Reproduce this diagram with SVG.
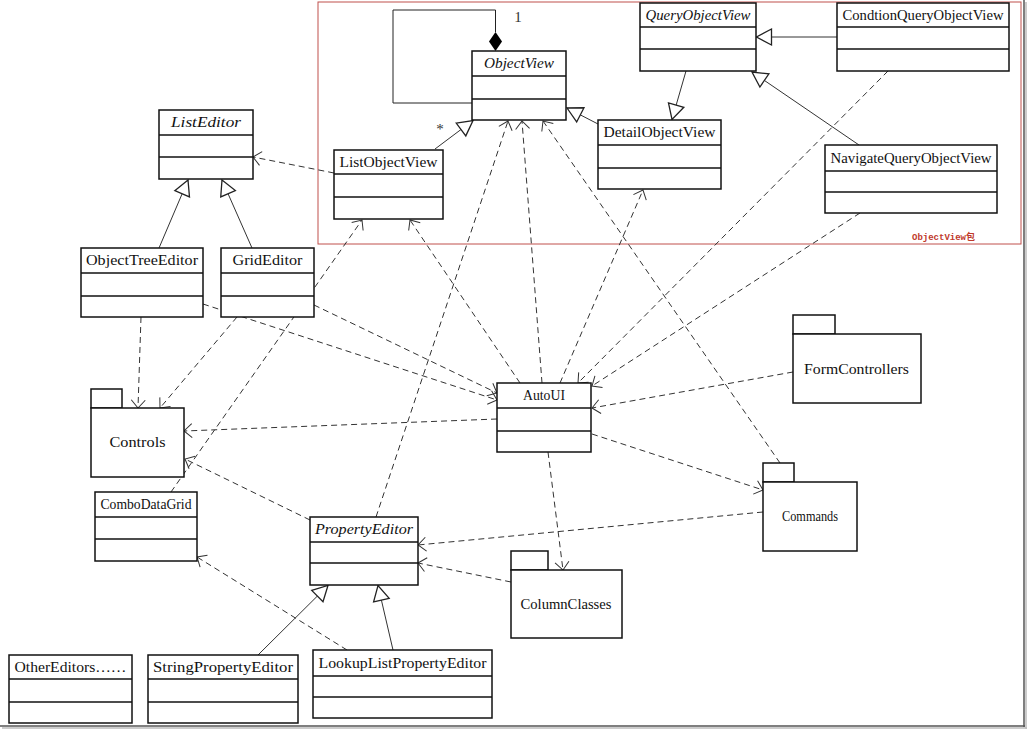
<svg xmlns="http://www.w3.org/2000/svg" width="1028" height="731" viewBox="0 0 1028 731">
<style>
.box{fill:#fff;stroke:#111;stroke-width:1.5}
.dv{stroke:#111;stroke-width:1.5}
.t{font-family:"Liberation Serif","Noto Sans CJK SC",serif;font-size:14px;fill:#111;text-anchor:middle}
.it{font-style:italic}
.dep{fill:none;stroke:#333;stroke-width:1;stroke-dasharray:6 4;marker-end:url(#open)}
.gen{fill:none;stroke:#333;stroke-width:1;marker-end:url(#tri)}
</style>
<defs>
<marker id="open" markerUnits="userSpaceOnUse" markerWidth="20" markerHeight="20" viewBox="0 0 20 20" refX="10" refY="10" orient="auto"><path d="M2,3 L10,10 L2,17" fill="none" stroke="#333" stroke-width="1"/></marker>
<marker id="tri" markerUnits="userSpaceOnUse" markerWidth="20" markerHeight="20" viewBox="0 0 20 20" refX="18" refY="10" orient="auto"><path d="M3,2 L18,10 L3,18 Z" fill="#fff" stroke="#222" stroke-width="1.3"/></marker>
</defs>
<rect width="1028" height="731" fill="#fff"/>
<line x1="1024" y1="0" x2="1024" y2="727" stroke="#555" stroke-width="1.5"/>
<line x1="0" y1="726" x2="1025" y2="726" stroke="#555" stroke-width="1.5"/>
<line x1="1026" y1="2" x2="1026" y2="729" stroke="#bbb" stroke-width="1.5"/>
<line x1="2" y1="728" x2="1027" y2="728" stroke="#bbb" stroke-width="1.5"/>

<g id="pkg-objectview">
<rect x="318" y="2" width="703" height="242" fill="none" stroke="#c0504d" stroke-width="1"/>
<text x="943.5" y="240" font-family="Liberation Mono,'Noto Sans CJK SC',monospace" font-size="9" font-weight="bold" fill="#c0392b" text-anchor="middle" textLength="63" lengthAdjust="spacingAndGlyphs">ObjectView包</text>
</g>

<g id="connectors">
<polyline points="472,103 393,103 393,10 495.5,10 495.5,32" fill="none" stroke="#222" stroke-width="1"/>
<polygon points="495.5,32 502,41.5 495.5,51 489,41.5" fill="#000"/>
<text x="518" y="22" font-family="Liberation Serif,serif" font-size="15" fill="#333" text-anchor="middle">1</text>
<text x="440" y="134" font-family="Liberation Serif,serif" font-size="15" fill="#333" text-anchor="middle">*</text>
<line class="gen" x1="435" y1="149" x2="473" y2="120.5"/>
<line class="gen" x1="598" y1="124" x2="567" y2="108"/>
<line class="gen" x1="837" y1="37" x2="756.5" y2="37"/>
<line class="gen" x1="686" y1="71" x2="672" y2="119.5"/>
<line class="gen" x1="859" y1="145" x2="752" y2="72"/>
<line class="gen" x1="159" y1="248" x2="188" y2="180"/>
<line class="gen" x1="252" y1="248" x2="222" y2="180"/>
<line class="gen" x1="258" y1="655" x2="328" y2="585.5"/>
<line class="gen" x1="393" y1="650" x2="378" y2="585.5"/>
<line class="dep" x1="334" y1="173" x2="253" y2="157"/>
<line class="dep" x1="141" y1="317" x2="138" y2="408"/>
<line class="dep" x1="237" y1="317" x2="160" y2="408"/>
<line class="dep" x1="203" y1="304" x2="497" y2="400"/>
<line class="dep" x1="314" y1="305" x2="497" y2="393"/>
<line class="dep" x1="171" y1="492" x2="362" y2="220"/>
<line class="dep" x1="520" y1="383" x2="410" y2="220"/>
<line class="dep" x1="376" y1="517" x2="508" y2="121"/>
<line class="dep" x1="542" y1="383" x2="522" y2="121"/>
<line class="dep" x1="780" y1="463" x2="543" y2="121"/>
<line class="dep" x1="560" y1="383" x2="643" y2="190"/>
<line class="dep" x1="888" y1="71" x2="578" y2="383"/>
<line class="dep" x1="860" y1="213" x2="592" y2="386"/>
<line class="dep" x1="793" y1="372" x2="592" y2="408"/>
<line class="dep" x1="592" y1="434" x2="763" y2="490"/>
<line class="dep" x1="763" y1="512" x2="418" y2="545"/>
<line class="dep" x1="511" y1="582" x2="418" y2="563"/>
<line class="dep" x1="548" y1="452" x2="563" y2="570"/>
<line class="dep" x1="497" y1="419" x2="184" y2="431"/>
<line class="dep" x1="310" y1="520" x2="185" y2="459"/>
<line class="dep" x1="347" y1="650" x2="197" y2="557"/>
</g>

<g id="ObjectView"><rect class="box" x="472" y="51" width="94" height="69"/><line class="dv" x1="472" y1="76" x2="566" y2="76"/><line class="dv" x1="472" y1="99" x2="566" y2="99"/><text class="t it" x="519" y="68" textLength="70" lengthAdjust="spacingAndGlyphs">ObjectView</text></g>
<g id="ListObjectView"><rect class="box" x="334" y="150" width="109" height="69"/><line class="dv" x1="334" y1="174" x2="443" y2="174"/><line class="dv" x1="334" y1="197" x2="443" y2="197"/><text class="t" x="388.5" y="166.5" textLength="98" lengthAdjust="spacingAndGlyphs">ListObjectView</text></g>
<g id="DetailObjectView"><rect class="box" x="598" y="120" width="123" height="69"/><line class="dv" x1="598" y1="145" x2="721" y2="145"/><line class="dv" x1="598" y1="168" x2="721" y2="168"/><text class="t" x="659.5" y="137" textLength="112" lengthAdjust="spacingAndGlyphs">DetailObjectView</text></g>
<g id="QueryObjectView"><rect class="box" x="640" y="3" width="116" height="68"/><line class="dv" x1="640" y1="27" x2="756" y2="27"/><line class="dv" x1="640" y1="49" x2="756" y2="49"/><text class="t it" x="698" y="19.5" textLength="105" lengthAdjust="spacingAndGlyphs">QueryObjectView</text></g>
<g id="CondtionQueryObjectView"><rect class="box" x="837" y="3" width="172" height="68"/><line class="dv" x1="837" y1="27" x2="1009" y2="27"/><line class="dv" x1="837" y1="49" x2="1009" y2="49"/><text class="t" x="923" y="19.5" textLength="161" lengthAdjust="spacingAndGlyphs">CondtionQueryObjectView</text></g>
<g id="NavigateQueryObjectView"><rect class="box" x="825" y="145" width="172" height="68"/><line class="dv" x1="825" y1="171" x2="997" y2="171"/><line class="dv" x1="825" y1="192" x2="997" y2="192"/><text class="t" x="911" y="162.5" textLength="161" lengthAdjust="spacingAndGlyphs">NavigateQueryObjectView</text></g>
<g id="ListEditor"><rect class="box" x="159" y="110" width="94" height="69"/><line class="dv" x1="159" y1="135" x2="253" y2="135"/><line class="dv" x1="159" y1="157" x2="253" y2="157"/><text class="t it" x="206" y="127" textLength="70" lengthAdjust="spacingAndGlyphs">ListEditor</text></g>
<g id="ObjectTreeEditor"><rect class="box" x="81" y="248" width="122" height="69"/><line class="dv" x1="81" y1="273" x2="203" y2="273"/><line class="dv" x1="81" y1="296" x2="203" y2="296"/><text class="t" x="142" y="265" textLength="112" lengthAdjust="spacingAndGlyphs">ObjectTreeEditor</text></g>
<g id="GridEditor"><rect class="box" x="221" y="248" width="93" height="69"/><line class="dv" x1="221" y1="273" x2="314" y2="273"/><line class="dv" x1="221" y1="296" x2="314" y2="296"/><text class="t" x="267.5" y="265" textLength="70" lengthAdjust="spacingAndGlyphs">GridEditor</text></g>
<g id="ComboDataGrid"><rect class="box" x="95" y="492" width="102" height="69"/><line class="dv" x1="95" y1="517" x2="197" y2="517"/><line class="dv" x1="95" y1="539" x2="197" y2="539"/><text class="t" x="146" y="509" textLength="91" lengthAdjust="spacingAndGlyphs">ComboDataGrid</text></g>
<g id="PropertyEditor"><rect class="box" x="310" y="517" width="108" height="68"/><line class="dv" x1="310" y1="542" x2="418" y2="542"/><line class="dv" x1="310" y1="563" x2="418" y2="563"/><text class="t it" x="364" y="534" textLength="98" lengthAdjust="spacingAndGlyphs">PropertyEditor</text></g>
<g id="AutoUI"><rect class="box" x="497" y="383" width="94" height="69"/><line class="dv" x1="497" y1="408" x2="591" y2="408"/><line class="dv" x1="497" y1="431" x2="591" y2="431"/><text class="t" x="544" y="400" textLength="42" lengthAdjust="spacingAndGlyphs">AutoUI</text></g>
<g id="OtherEditors"><rect class="box" x="9" y="655" width="123" height="68"/><line class="dv" x1="9" y1="679" x2="132" y2="679"/><line class="dv" x1="9" y1="702" x2="132" y2="702"/><text class="t" x="70.5" y="671.5" textLength="112" lengthAdjust="spacingAndGlyphs">OtherEditors……</text></g>
<g id="StringPropertyEditor"><rect class="box" x="148" y="655" width="150" height="68"/><line class="dv" x1="148" y1="679" x2="298" y2="679"/><line class="dv" x1="148" y1="702" x2="298" y2="702"/><text class="t" x="223" y="671.5" textLength="140" lengthAdjust="spacingAndGlyphs">StringPropertyEditor</text></g>
<g id="LookupListPropertyEditor"><rect class="box" x="313" y="650" width="179" height="68"/><line class="dv" x1="313" y1="676" x2="492" y2="676"/><line class="dv" x1="313" y1="697" x2="492" y2="697"/><text class="t" x="402.5" y="667.5" textLength="168" lengthAdjust="spacingAndGlyphs">LookupListPropertyEditor</text></g>
<g id="Controls"><rect class="box" x="91" y="389" width="31" height="19"/><rect class="box" x="91" y="408" width="93" height="69"/><text class="t" x="137.5" y="446.5" textLength="56" lengthAdjust="spacingAndGlyphs">Controls</text></g>
<g id="FormControllers"><rect class="box" x="793" y="315" width="42" height="19"/><rect class="box" x="793" y="334" width="128" height="69"/><text class="t" x="856.5" y="373.5" textLength="105" lengthAdjust="spacingAndGlyphs">FormControllers</text></g>
<g id="Commands"><rect class="box" x="763" y="463" width="31" height="19"/><rect class="box" x="763" y="482" width="94" height="69"/><text class="t" x="810" y="520.5" textLength="56" lengthAdjust="spacingAndGlyphs">Commands</text></g>
<g id="ColumnClasses"><rect class="box" x="511" y="551" width="37" height="19"/><rect class="box" x="511" y="570" width="111" height="68"/><text class="t" x="566" y="608.5" textLength="91" lengthAdjust="spacingAndGlyphs">ColumnClasses</text></g>
</svg>
